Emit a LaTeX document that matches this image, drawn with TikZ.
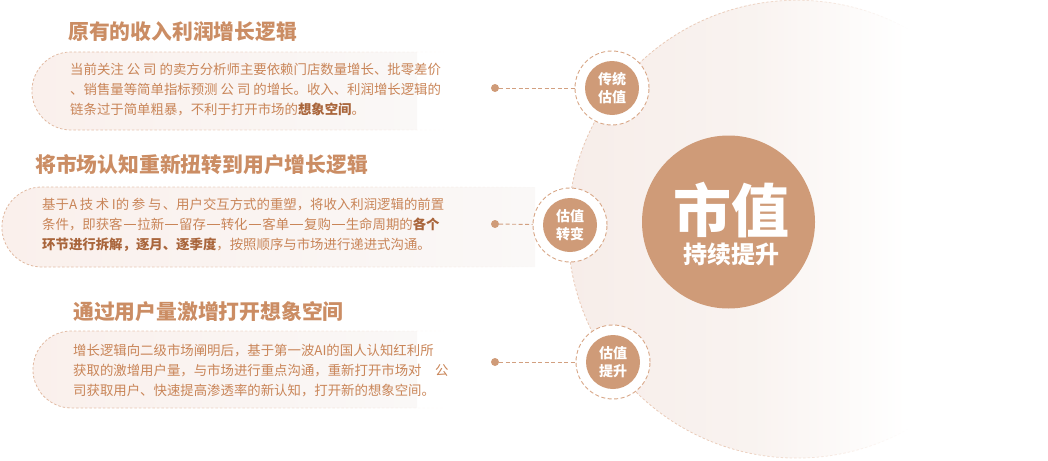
\documentclass[tikz,border=0pt]{standalone}
\usepackage{fontspec}
\setmainfont{Noto Sans CJK SC}
\usetikzlibrary{fadings}
\definecolor{brownc}{HTML}{CF9B78}
\definecolor{titlec}{HTML}{CB8D64}
\definecolor{bodyc}{HTML}{C98558}
\definecolor{boldc}{HTML}{A9653B}
\definecolor{boxborder}{HTML}{E0B79E}
\definecolor{ringc}{HTML}{D8A686}
\definecolor{connc}{HTML}{D2A080}
\definecolor{bigborder}{HTML}{E9C8B4}
\definecolor{bigL}{HTML}{F7EDE9}
\definecolor{bigM}{HTML}{F9F3F0}
\definecolor{boxL}{HTML}{FAF0EC}
\definecolor{boxR}{HTML}{FAF8F7}
\pgfdeclarehorizontalshading{bigshade}{100bp}{color(0bp)=(bigL); color(25bp)=(bigL); color(45bp)=(bigM); color(62bp)=(white); color(100bp)=(white)}
\pgfdeclarehorizontalshading{bigfadeshade}{100bp}{color(0bp)=(transparent!0); color(25bp)=(transparent!0); color(42bp)=(transparent!10); color(62bp)=(transparent!100); color(100bp)=(transparent!100)}
\pgfdeclarefading{bigfade}{\pgfuseshading{bigfadeshade}}
\tikzfading[name=boxfade, left color=transparent!0, right color=transparent!100]
\tikzset{
  titlest/.style={anchor=west, text=titlec, font=\fontsize{20.8}{24}\selectfont\bfseries, inner sep=0},
  bodyst/.style={anchor=west, text=bodyc, align=left, font=\fontsize{13.4}{19.7}\selectfont, inner sep=0},
  boxfill/.style={left color=boxL, right color=boxR},
  boxline/.style={draw=boxborder, line width=0.8pt, dash pattern=on 2.5pt off 2pt, path fading=boxfade},
  dotst/.style={circle, fill=brownc, inner sep=0, minimum size=8},
  ringst/.style={circle, fill=white, draw=ringc, line width=0.9pt, dash pattern=on 4pt off 2.5pt, minimum size=74, inner sep=0},
  innerst/.style={circle, fill=brownc, minimum size=54, inner sep=0, text=white, align=center, font=\fontsize{14}{18}\selectfont\bfseries},
  conn/.style={draw=connc, line width=0.9pt, dash pattern=on 4pt off 2.5pt},
  bigline/.style={draw=bigborder, line width=0.8pt, dash pattern=on 2.5pt off 2pt},
}
\newcommand{\bb}[1]{\textcolor{boldc}{\bfseries #1}}
\newcommand{\dd}{\hspace{0.08em}\rule[0.33em]{0.95em}{0.07em}\hspace{0.08em}}
\begin{document}
\begin{tikzpicture}[x=1pt, y=-1pt]
\useasboundingbox (0,0) rectangle (1048,460);
% big background circle
\coordinate (BC) at (797,229);
\shade[shading=bigshade] (BC) circle (229);
\draw[bigline, path fading=bigfade] (BC) circle (229);

% boxes
\shade[boxfill] (417,52) -- (71,52) arc[start angle=270, end angle=90, radius=39] -- (417,130) -- cycle;
\draw[boxline] (450,52) -- (71,52) arc[start angle=270, end angle=90, radius=39] -- (450,130);
\shade[boxfill] (535,187) -- (42,187) arc[start angle=270, end angle=90, radius=40] -- (535,267) -- cycle;
\draw[boxline] (535,187) -- (42,187) arc[start angle=270, end angle=90, radius=40] -- (535,267);
\shade[boxfill] (417,331) -- (71.5,331) arc[start angle=270, end angle=90, radius=38.5] -- (417,408) -- cycle;
\draw[boxline] (450,331) -- (71.5,331) arc[start angle=270, end angle=90, radius=38.5] -- (450,408);

% titles
\node[titlest] (t1) at (68,32) {原有的收入利润增长逻辑};
\node[titlest] (t2) at (35,165) {将市场认知重新扭转到用户增长逻辑};
\node[titlest] (t3) at (73,312) {通过用户量激增打开想象空间};

% body texts
\node[bodyst] (b1) at (70,89.5) {当前关注 公 司 的卖方分析师主要依赖门店数量增长、批零差价\\、销售量等简单指标预测 公 司 的增长。收入、利润增长逻辑的\\链条过于简单粗暴，不利于打开市场的\bb{想象空间}。};
\node[bodyst] (b2) at (42,225) {基于A\hspace{0.2em}技\hspace{0.2em}术\hspace{0.2em}I的\hspace{0.2em}参\hspace{0.2em}与\hspace{0.1em}、用户交互方式的重塑，将收入利润逻辑的前置\\条件，即获客\dd 拉新\dd 留存\dd 转化\dd 客单\dd 复购\dd 生命周期的\bb{各个}\\\bb{环节进行拆解，逐月、逐季度}，按照顺序与市场进行递进式沟通。};
\node[bodyst] (b3) at (73,370.5) {增长逻辑向二级市场阐明后，基于第一波AI的国人认知红利所\\获取的激增用户量，与市场进行重点沟通，重新打开市场对　公\\司获取用户、快速提高渗透率的新认知，打开新的想象空间。};

% dots
\node[dotst] (d1) at (495,88) {};
\node[dotst] (d2) at (495,224) {};
\node[dotst] (d3) at (495,362) {};

% rings
\node[ringst] (r1) at (612,88) {};
\node[ringst] (r2) at (570,225) {};
\node[ringst] (r3) at (613,362) {};

% connectors
\draw[conn] (d1) -- (r1);
\draw[conn] (d2) -- (r2);
\draw[conn] (d3) -- (r3);

% inner circles
\node[innerst] (c1) at (612,88) {传统\\估值};
\node[innerst] (c2) at (570,225) {估值\\转变};
\node[innerst] (c3) at (613,362) {估值\\提升};

% central circle
\node[circle, fill=brownc, minimum size=173, inner sep=0] (mv) at (728.5,222) {};
\node[text=white, font=\fontsize{58}{60}\selectfont\bfseries, inner sep=0] (mvA) at (731,210) {市值};
\node[text=white, font=\fontsize{24}{26}\selectfont\bfseries, inner sep=0] (mvB) at (731,254) {持续提升};
\end{tikzpicture}
\end{document}
